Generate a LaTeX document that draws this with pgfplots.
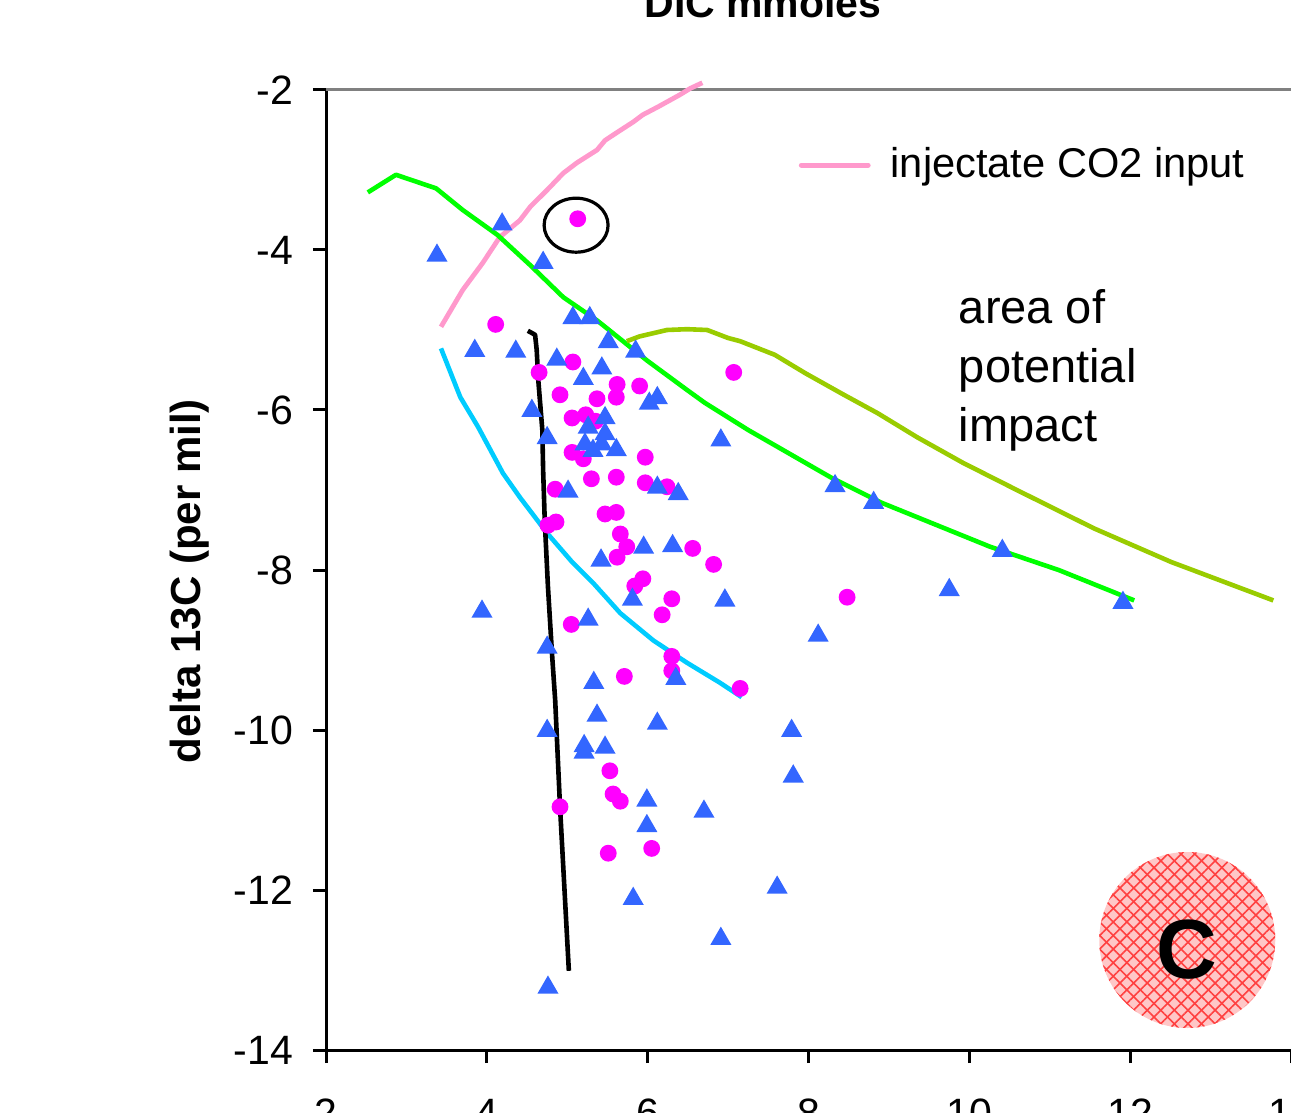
\documentclass[border=0pt]{standalone}
\usepackage{fontspec}
\setmainfont{Liberation Sans}
\usepackage{pgfplots}
\pgfplotsset{compat=1.18}
\usetikzlibrary{patterns.meta}
\definecolor{tri}{RGB}{51,102,255}
\definecolor{mag}{RGB}{255,0,255}
\definecolor{pinkl}{RGB}{255,153,204}
\definecolor{greenl}{RGB}{0,255,0}
\definecolor{olivel}{RGB}{153,204,0}
\definecolor{cyanl}{RGB}{0,204,255}
\begin{document}
\begin{tikzpicture}
\begin{axis}[
  at={(0,0)}, anchor=south west,
  scale only axis, width=241.25pt, height=240pt,
  xmin=2, xmax=14, ymin=-14, ymax=-2,
  clip=false,
  axis lines=left,
  axis line style={-, black, line width=0.75pt},
  xtick={2,4,...,14}, ytick={-14,-12,...,-2},
  tick align=outside, major tick length=3.25pt,
  tick style={black, line width=0.75pt},
  /pgf/number format/assume math mode=true,
  ticklabel style={font=\fontsize{10.25}{12}\selectfont, inner sep=0pt},
  yticklabel style={anchor=east, xshift=-4.75pt},
  xticklabel style={anchor=north, yshift=-8.75pt},
  title={\bfseries DIC mmoles},
  every axis title/.style={at={(axis description cs:0.4528,1.075)}, anchor=base, inner sep=0pt, font=\fontsize{10.25}{12}\selectfont},
  ylabel={\bfseries delta 13C (per mil)},
  ylabel style={at={(axis description cs:-0.141,0.4885)}, anchor=center, inner sep=0pt, font=\fontsize{10.5}{12}\selectfont},
  legend style={at={(axis cs:7.87,-2.94)}, anchor=west, draw=none, fill=none, inner sep=0pt,
    font=\fontsize{10.4}{12}\selectfont, nodes={inner sep=0pt},
    /tikz/every odd column/.append style={column sep=5pt}},
  legend cell align=left,
  legend image code/.code={\draw[#1, line cap=round] (0pt,0pt) -- (16.75pt,0pt);},
]
\draw[gray, line width=0.75pt] (rel axis cs:0,1) -- (rel axis cs:1,1);

\addplot[pinkl, line width=1.2pt, line join=round, mark=none] coordinates {
(3.43,-4.96) (3.70,-4.50) (3.95,-4.16) (4.16,-3.84) (4.41,-3.63) (4.54,-3.46)
(4.75,-3.25) (4.95,-3.04) (5.12,-2.91) (5.37,-2.75) (5.47,-2.63) (5.62,-2.53)
(5.82,-2.40) (5.94,-2.31) (6.13,-2.21) (6.40,-2.06) (6.53,-1.98) (6.68,-1.91)};
\addlegendentry{injectate CO2 input}

\addplot[greenl, line width=1.15pt, line join=round, mark=none, forget plot] coordinates {
(2.52,-3.28) (2.87,-3.06) (3.37,-3.23) (3.70,-3.50) (4.13,-3.81) (4.54,-4.19)
(4.95,-4.59) (5.37,-4.88) (5.78,-5.21) (5.99,-5.38) (6.49,-5.75) (6.71,-5.91)
(7.25,-6.25) (8.29,-6.85) (8.91,-7.16) (10.26,-7.71) (11.11,-8.00) (12.05,-8.38)};

\addplot[olivel, line width=1.15pt, line join=round, mark=none, forget plot] coordinates {
(5.74,-5.14) (5.90,-5.08) (6.07,-5.04) (6.24,-5.00) (6.49,-4.99) (6.74,-5.00)
(7.00,-5.10) (7.15,-5.14) (7.58,-5.31) (7.96,-5.54) (8.44,-5.81) (8.86,-6.04)
(9.35,-6.34) (9.92,-6.66) (10.59,-7.00) (11.55,-7.48) (12.51,-7.90) (13.78,-8.38)};

\addplot[cyanl, line width=1.15pt, line join=round, mark=none, forget plot] coordinates {
(3.43,-5.23) (3.67,-5.84) (3.89,-6.21) (4.20,-6.79) (4.41,-7.09) (4.75,-7.54)
(5.06,-7.90) (5.32,-8.16) (5.66,-8.54) (6.07,-8.88) (6.49,-9.16) (6.90,-9.41) (7.17,-9.59)};

\addplot[black, line width=1.15pt, line join=round, mark=none, forget plot] coordinates {
(4.51,-5.01) (4.60,-5.06) (4.62,-5.25) (4.64,-5.63) (4.69,-6.25) (4.70,-6.75)
(4.72,-7.38) (4.76,-8.21) (4.81,-9.04) (4.85,-9.63) (4.91,-10.96) (5.02,-13.01)};

\addplot[only marks, mark=*, mark size=1.9pt, mag, mark options={draw=mag, fill=mag}, forget plot] table {
x y
5.13 -3.61
4.11 -4.93
5.07 -5.40
4.65 -5.53
5.62 -5.68
5.90 -5.70
4.91 -5.81
5.37 -5.86
5.61 -5.84
5.06 -6.10
5.23 -6.06
5.35 -6.14
5.06 -6.53
5.20 -6.61
5.97 -6.59
5.30 -6.86
5.61 -6.84
5.97 -6.91
6.24 -6.96
4.85 -6.99
5.47 -7.30
5.61 -7.28
4.76 -7.44
4.86 -7.40
5.66 -7.55
5.74 -7.71
5.62 -7.84
6.56 -7.73
6.82 -7.93
5.94 -8.11
5.84 -8.20
6.30 -8.36
6.18 -8.56
5.05 -8.68
6.30 -9.08
6.30 -9.26
5.71 -9.33
7.15 -9.48
7.07 -5.53
8.48 -8.34
5.53 -10.51
5.57 -10.80
5.66 -10.89
4.91 -10.96
5.51 -11.54
6.05 -11.48
};

\addplot[only marks, mark=triangle*, mark size=2.65pt, tri, mark options={draw=tri, fill=tri}, forget plot] table {
x y
3.38 -4.07
4.19 -3.68
4.70 -4.16
5.07 -4.85
5.28 -4.85
5.51 -5.15
5.85 -5.27
3.85 -5.26
4.36 -5.27
4.87 -5.37
5.43 -5.48
5.20 -5.61
6.12 -5.85
6.02 -5.92
4.56 -6.01
5.47 -6.10
5.26 -6.22
5.47 -6.30
4.75 -6.35
5.22 -6.43
5.43 -6.43
5.32 -6.51
5.61 -6.50
6.91 -6.38
5.01 -7.02
6.12 -6.97
6.38 -7.05
5.95 -7.72
6.31 -7.70
5.42 -7.88
5.81 -8.37
6.96 -8.38
3.94 -8.52
5.26 -8.62
4.75 -8.97
5.33 -9.41
6.35 -9.36
5.37 -9.82
6.12 -9.92
4.75 -10.01
7.79 -10.01
5.21 -10.20
5.21 -10.28
5.47 -10.22
7.81 -10.58
5.99 -10.88
6.70 -11.02
5.99 -11.20
7.61 -11.97
5.82 -12.11
6.91 -12.61
4.76 -13.22
8.33 -6.95
8.81 -7.16
10.41 -7.76
11.91 -8.41
9.75 -8.25
8.12 -8.82
};

\draw[black, line width=0.8pt] (axis cs:5.11,-3.69) ellipse[x radius=8pt, y radius=6.75pt];

\node[anchor=base west, inner sep=0pt, font=\fontsize{11.75}{14}\selectfont] at (axis cs:9.86,-4.925) {area of};
\node[anchor=base west, inner sep=0pt, font=\fontsize{11.75}{14}\selectfont] at (axis cs:9.86,-5.66) {potential};
\node[anchor=base west, inner sep=0pt, font=\fontsize{11.75}{14}\selectfont] at (axis cs:9.86,-6.40) {impact};

\fill[red!22] (axis cs:12.71,-12.625) circle[radius=22pt];
\fill[pattern={Lines[angle=45,distance=2.4pt,line width=0.4pt]}, pattern color=red!75] (axis cs:12.71,-12.625) circle[radius=22pt];
\fill[pattern={Lines[angle=-45,distance=2.4pt,line width=0.4pt]}, pattern color=red!75] (axis cs:12.71,-12.625) circle[radius=22pt];
\node[font=\fontsize{21}{24}\selectfont\bfseries, inner sep=0pt] at (axis cs:12.71,-12.75) {C};
\end{axis}
\pgfresetboundingbox
\path[use as bounding box] (-81.5pt,-15.5pt) rectangle (241.25pt,262.5pt);
\end{tikzpicture}
\end{document}
